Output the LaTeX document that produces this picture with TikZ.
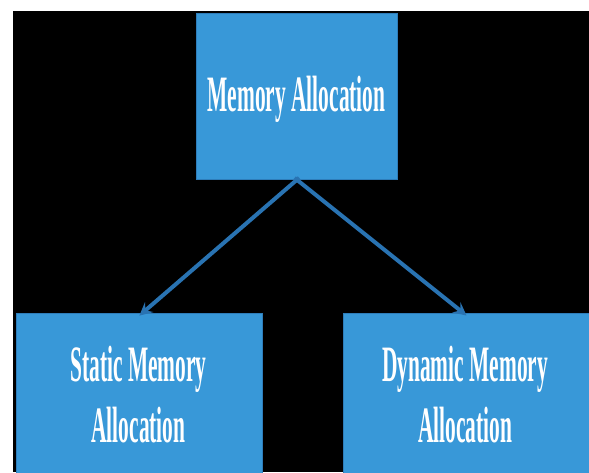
\documentclass[tikz,border=0pt]{standalone}
\usepackage{fontspec}
\setmainfont{Liberation Serif}
\newfontfamily\condfont[FakeStretch=0.42]{Liberation Serif}
\usetikzlibrary{arrows.meta,calc}
\definecolor{boxblue}{RGB}{56,152,216}
\definecolor{boxedge}{RGB}{46,125,186}
\definecolor{arrblue}{RGB}{41,115,178}
\begin{document}
\begin{tikzpicture}[x=1pt,y=-1pt,
  box/.style={draw=boxedge, line width=0.8pt, fill=boxblue, inner sep=0pt, anchor=north west},
  lbl/.style={text=white, font=\condfont\bfseries\fontsize{51}{61}\selectfont, align=center, inner sep=0pt},
  conn/.style={draw=arrblue, line width=4pt, -{Stealth[length=13pt,width=13pt,inset=5pt]}}]
\useasboundingbox (0,0) rectangle (589,472);
\fill[white] (0,0) rectangle (589,472);
\fill[black] (13,11) rectangle (589,472);
\begin{scope}
\clip (13,11) rectangle (589,472);
\node[box, minimum width=201pt, minimum height=166pt] (top) at (196,13) {};
\node[box, minimum width=246pt, minimum height=180pt] (left) at (16,313) {};
\node[box, minimum width=248pt, minimum height=180pt] (right) at (343,313) {};
\node[lbl, anchor=base] (toptext) at (296.5,111.5) {Memory Allocation};
\node[lbl] (lefttext) at (138.5,394.5) {Static Memory\\Allocation};
\node[lbl] (righttext) at (465,394.5) {Dynamic Memory\\Allocation};
\draw[conn, shorten <=-3pt, shorten >=-4pt] (top.south) -- ($(left.north)+(3,0)$);
\draw[conn, shorten <=-3pt, shorten >=-4pt] (top.south) -- ($(right.north)+(-4,0)$);
\end{scope}
\end{tikzpicture}
\end{document}
